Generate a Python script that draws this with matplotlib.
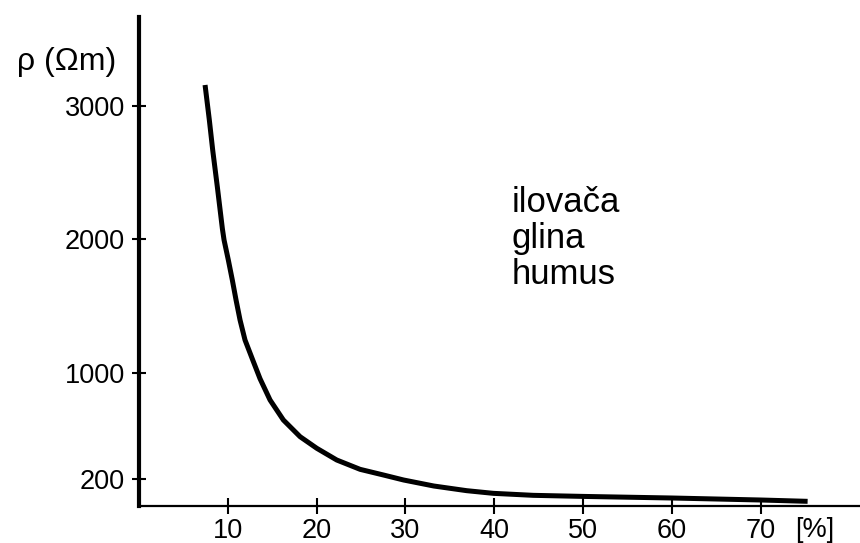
import matplotlib.pyplot as plt

plt.rcParams['font.family'] = ['Liberation Sans', 'DejaVu Sans']

# krivulja otpornosti (procijenjeno sa slike)
x_vlaga = [7.44, 7.92, 8.30, 8.82, 9.39, 9.58, 10.06, 10.51, 10.93, 11.38, 11.94, 12.81,
           13.63, 14.76, 16.26, 18.14, 20.02, 22.27, 24.9, 27.5, 29.8, 33.2, 36.9, 39.9,
           44.4, 50.0, 60.0, 70.0, 75.3]
y_rho = [3158, 2896, 2670, 2395, 2080, 1995, 1845, 1695, 1545, 1395, 1245, 1095,
         955, 795, 645, 520, 433, 345, 275, 233, 195, 150, 115, 95,
         80, 72, 60, 45, 35]

x_ticks = [10, 20, 30, 40, 50, 60, 70]
y_ticks = [200, 1000, 2000, 3000]
tla = ["ilovača", "glina", "humus"]
tla_y = [2206, 1936, 1666]

fig = plt.figure(figsize=(8.6, 5.43), dpi=100)
ax = fig.add_axes([139 / 860, 37 / 543, 721 / 860, 489 / 543])

ax.plot(x_vlaga, y_rho, color='black', lw=3.6, solid_capstyle='butt',
        solid_joinstyle='round')

ax.set_xlim(0, 81.2)
ax.set_ylim(0, 3668)
ax.set_xticks(x_ticks)
ax.set_yticks(y_ticks)
ax.tick_params(axis='both', direction='inout', labelsize=19.5, width=1.5, color='black')
ax.tick_params(axis='x', length=12, pad=3)
ax.tick_params(axis='y', length=10, pad=5)

for s in ['top', 'right']:
    ax.spines[s].set_visible(False)
ax.spines['left'].set_linewidth(3)
ax.spines['bottom'].set_linewidth(1.6)

ax.text(-0.101, 0.908, "ρ (Ωm)", transform=ax.transAxes, fontsize=23,
        ha='center', va='center')
ax.text(73.9, -0.049, "[%]", transform=ax.get_xaxis_transform(), fontsize=19.5,
        ha='left', va='center')
for naziv, yy in zip(tla, tla_y):
    ax.text(42.0, yy, naziv, fontsize=25, ha='left', va='baseline')

fig.savefig("out.png", dpi=100)
